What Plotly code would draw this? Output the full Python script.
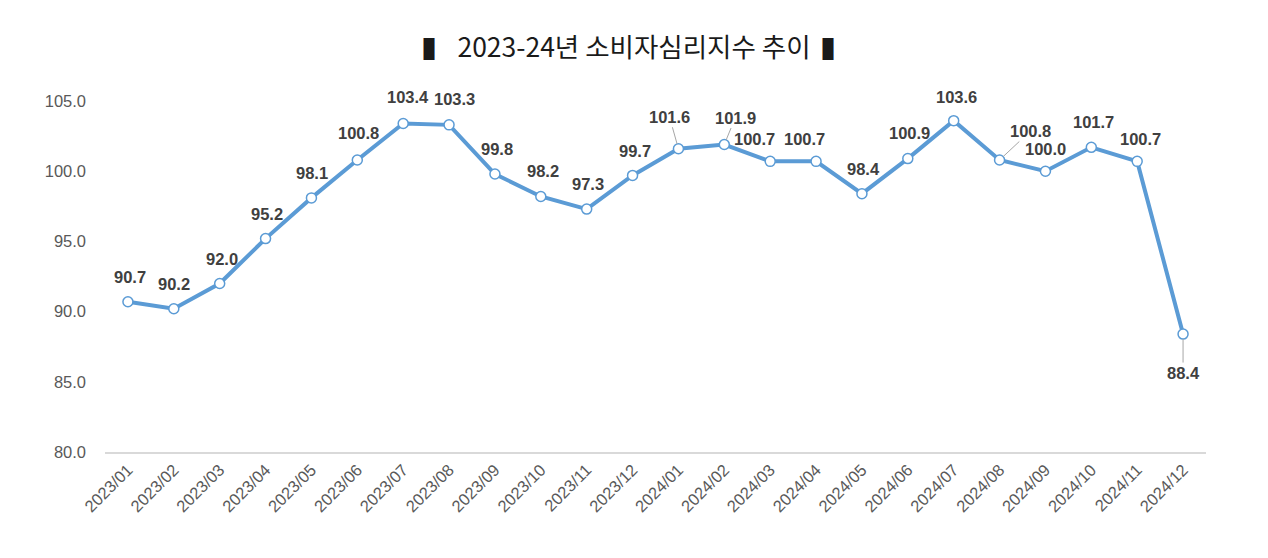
import plotly.graph_objects as go

months = ["2023/01","2023/02","2023/03","2023/04","2023/05","2023/06","2023/07","2023/08",
          "2023/09","2023/10","2023/11","2023/12","2024/01","2024/02","2024/03","2024/04",
          "2024/05","2024/06","2024/07","2024/08","2024/09","2024/10","2024/11","2024/12"]
values = [90.7, 90.2, 92.0, 95.2, 98.1, 100.8, 103.4, 103.3, 99.8, 98.2, 97.3, 99.7,
          101.6, 101.9, 100.7, 100.7, 98.4, 100.9, 103.6, 100.8, 100.0, 101.7, 100.7, 88.4]
y_ticks = [80, 85, 90, 95, 100, 105]

# label placement (pixel offsets), leader-line labels separately
label_dx = [2, 0, 2, 1, 1, 1, 5, 5, 2, 2, 1, 2, 0, 0, -16, -12, 2, 2, 3, 0, 0, 2, 3, 0]
label_dy = [25, 25, 25, 25, 25, 27, 26, 26, 25, 25, 25, 24, 0, 0, 22, 22, 25, 26, 24, 0, 22, 25, 22, 0]
leader = {12: (-9, -32), 13: (11, -27), 19: (31, -29), 23: (0, 39)}

BLUE = "#5B9BD5"
fig = go.Figure()
fig.add_trace(go.Scatter(
    x=months, y=values, mode="lines+markers",
    line=dict(color=BLUE, width=4),
    marker=dict(size=10, color="white", line=dict(color=BLUE, width=1.5)),
    cliponaxis=False, hoverinfo="x+y"))

lab_font = dict(family="Liberation Sans, Arial", size=16.5, color="#404040")
for i, (m, v) in enumerate(zip(months, values)):
    txt = f"<b>{v:.1f}</b>"
    if i in leader:
        ax, ay = leader[i]
        fig.add_annotation(x=m, y=v, text=txt, showarrow=True, arrowhead=0,
                           arrowwidth=1, arrowcolor="#A6A6A6", ax=ax, ay=ay,
                           standoff=5, font=lab_font)
    else:
        fig.add_annotation(x=m, y=v, text=txt, showarrow=False,
                           xshift=label_dx[i], yshift=label_dy[i], font=lab_font)

fig.update_layout(
    width=1252, height=542,
    paper_bgcolor="white", plot_bgcolor="white",
    margin=dict(l=97, r=54, t=93, b=98),
    showlegend=False,
    title=dict(text="<span style='font-size:22px'>▌</span>  2023-24년 소비자심리지수 추이  <span style='font-size:22px'>▌</span>",
               x=0.5, xanchor="center", y=1 - 40 / 542, yanchor="middle",
               font=dict(family="Noto Sans CJK KR", size=26.5, color="#1A1A1A")),
    xaxis=dict(type="category", range=[-0.5, 23.5], showgrid=False,
               showline=True, linecolor="#D9D9D9", linewidth=1.5,
               tickangle=-45, ticks="",
               tickfont=dict(family="Liberation Sans, Arial", size=16.5, color="#595959")),
    yaxis=dict(range=[80, 105], tickvals=y_ticks, tickformat=".1f",
               showgrid=False, zeroline=False, showline=False, ticks="",
               ticklabelstandoff=18,
               tickfont=dict(family="Liberation Sans, Arial", size=16.5, color="#595959")),
)
fig.write_html("out.html")
